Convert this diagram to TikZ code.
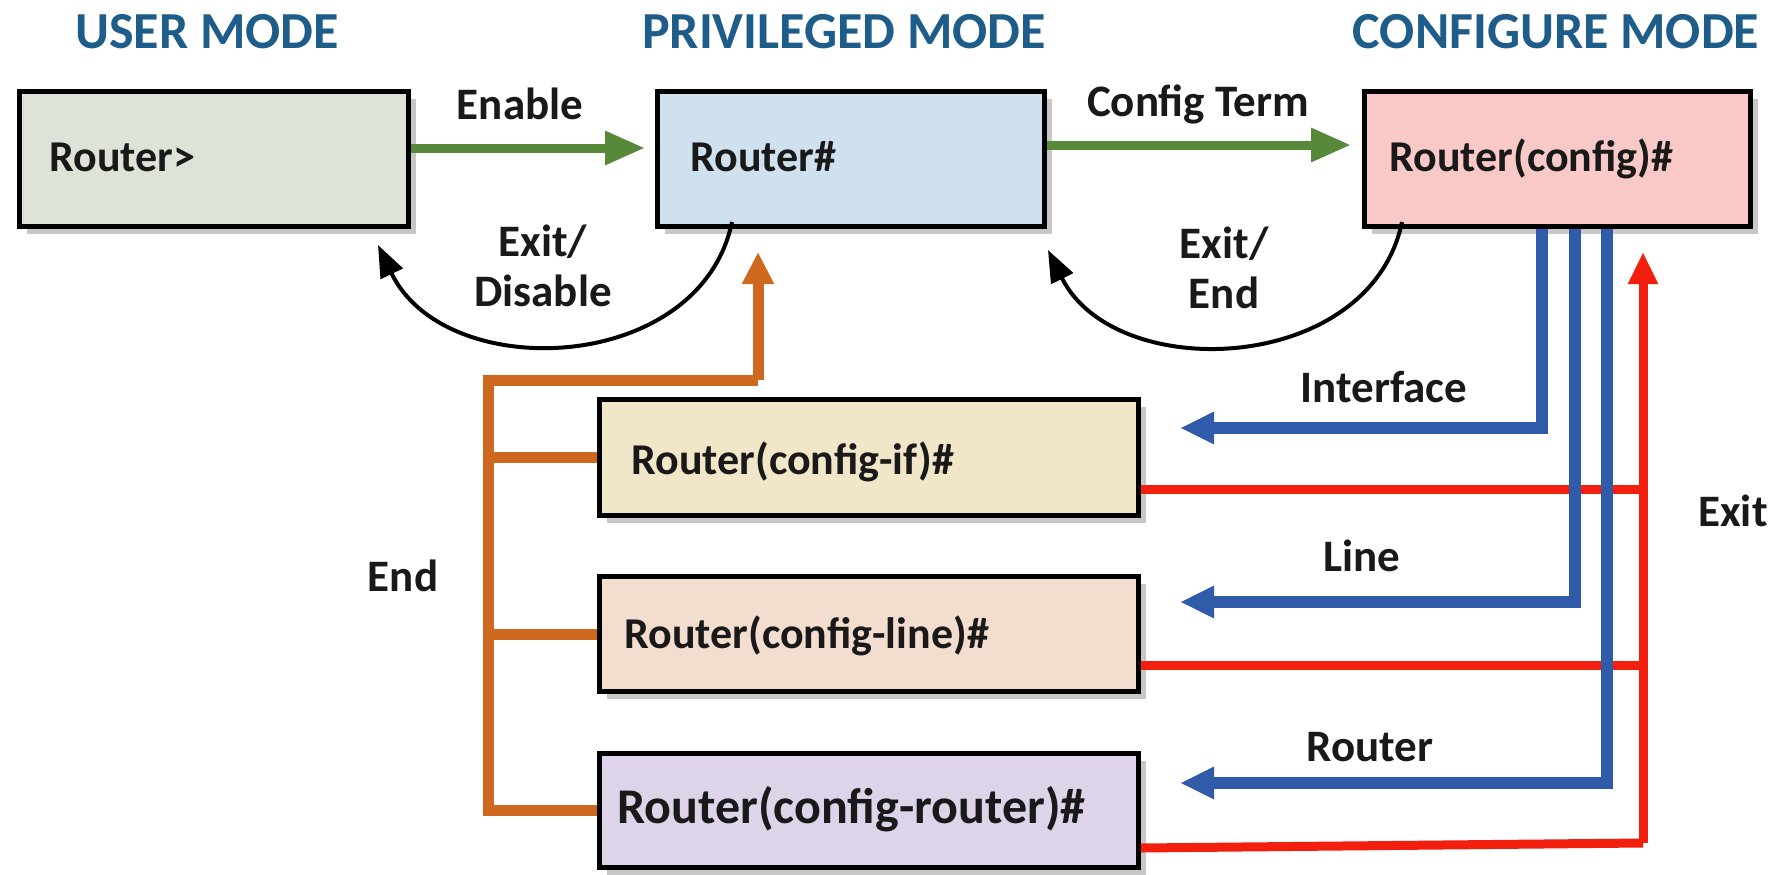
\documentclass[tikz,border=0pt]{standalone}
\usepackage{fontspec}
\setmainfont{Carlito}
\usetikzlibrary{arrows.meta,shadows,calc}
\definecolor{titleblue}{RGB}{30,92,138}
\definecolor{fuser}{RGB}{222,227,216}
\definecolor{fpriv}{RGB}{207,224,239}
\definecolor{fconf}{RGB}{249,201,199}
\definecolor{fif}{RGB}{242,230,200}
\definecolor{fline}{RGB}{242,221,206}
\definecolor{frouter}{RGB}{222,212,234}
\definecolor{cgreen}{RGB}{88,136,58}
\definecolor{corange}{RGB}{206,104,30}
\definecolor{cblue}{RGB}{47,91,168}
\definecolor{cred}{RGB}{242,30,14}
\begin{document}
\begin{tikzpicture}[x=1pt,y=-1pt,
  modebox/.style={draw=black,line width=5pt,minimum height=#1,anchor=north west,
    inner sep=0pt,drop shadow={shadow xshift=7pt,shadow yshift=-7pt,fill=black!40,opacity=0.55}},
  modebox/.default=135pt,
  boxtext/.style={font=\bfseries\fontsize{44}{52}\selectfont,text=black!90,anchor=west},
  title/.style={font=\bfseries\fontsize{52}{60}\selectfont,text=titleblue},
  lbl/.style={font=\bfseries\fontsize{45}{50}\selectfont,text=black!90,align=center},
  garrow/.style={draw=cgreen,line width=9pt,-{Triangle[length=40pt,width=32pt]}},
  karrow/.style={draw=black,line width=4pt,-{Triangle[length=32pt,width=24pt]}},
  oline/.style={draw=corange,line width=11pt},
  barrow/.style={draw=cblue,line width=12pt,line join=miter,-{Triangle[length=34pt,width=30pt]}},
  rline/.style={draw=cred,line width=9pt},
]
\useasboundingbox (0,0) rectangle (1780,875);
\fill[white] (0,0) rectangle (1780,875);

% titles
\node[title] (tuser) at (207,32) {USER MODE};
\node[title] (tpriv) at (844,32) {PRIVILEGED MODE};
\node[title] (tconf) at (1556,32) {CONFIGURE MODE};

% mode boxes
\node[modebox,fill=fuser,minimum width=389pt] (u) at (17,89) {};
\node[modebox,fill=fpriv,minimum width=387pt] (p) at (655,89) {};
\node[modebox,fill=fconf,minimum width=386pt] (c) at (1362,89) {};
\node[boxtext] (ut) at (46,157) {Router>};
\node[boxtext] (pt) at (687,157) {Router\#};
\node[boxtext] (ct) at (1386,159) {Router(config)\#};

% sub-mode boxes
\node[modebox=116pt,fill=fif,minimum width=539pt] (cif) at (597,397) {};
\node[modebox=115pt,fill=fline,minimum width=539pt] (cln) at (597,574) {};
\node[modebox=114pt,fill=frouter,minimum width=539pt] (crt) at (597,751) {};
\node[boxtext] (cift) at (628,462) {Router(config-if)\#};
\node[boxtext] (clnt) at (621,636) {Router(config-line)\#};
\node[boxtext,font=\bfseries\fontsize{50}{58}\selectfont] (crtt) at (614,809) {Router(config-router)\#};

% green arrows
\coordinate (g1e) at (645,148);
\coordinate (g2e) at (1351,145);
\draw[garrow] (u.east |- g1e) -- (g1e);
\draw[garrow] (p.east |- g2e) -- (g2e);
\node[lbl] (len) at (520,104) {Enable};
\node[lbl] (lct) at (1198,104) {Config Term};

% black return arcs
\coordinate (a1s) at (732,222);
\coordinate (a1e) at (378,245);
\coordinate (a2s) at (1402,222);
\coordinate (a2e) at (1048,250);
\draw[karrow] (a1s) .. controls (700,375) and (445,385) .. (a1e);
\draw[karrow] (a2s) .. controls (1370,375) and (1115,385) .. (a2e);
\node[lbl] (lexd) at (543,266) {Exit/\\Disable};
\node[lbl] (lexe) at (1224,268) {Exit/\\End};

% orange End lines
\coordinate (otop) at (488,380);
\coordinate (oend) at (758,252);
\draw[oline] (crt.west) -- (crt.west -| otop) -- (otop) -- (otop -| oend);
\draw[oline,-{Triangle[length=32pt,width=30pt]}] (otop -| oend) -- (oend);
\draw[oline] (cif.west) -- (cif.west -| otop);
\draw[oline] (cln.west) -- (cln.west -| otop);
\node[lbl] (lend) at (403,576) {End};

% red Exit lines
\coordinate (rx) at (1643,843);
\coordinate (rend) at (1643,252);
\draw[rline] ([yshift=29pt]cif.south east) -- ++(507,0);
\draw[rline] ([yshift=29pt]cln.south east) -- ++(507,0);
\draw[rline] ([yshift=22pt]crt.south east) -- (rx);
\draw[rline,-{Triangle[length=32pt,width=28pt]}] (rx) -- (rend);
\node[lbl] (lexit) at (1733,511) {Exit};

% blue lines
\coordinate (b1) at (1542,428);
\coordinate (b2) at (1575,602);
\coordinate (b3) at (1607,783);
\draw[barrow] (c.south -| b1) -- (b1) -- ([xshift=39pt]cif.east |- b1);
\draw[barrow] (c.south -| b2) -- (b2) -- ([xshift=39pt]cln.east |- b2);
\draw[barrow] (c.south -| b3) -- (b3) -- ([xshift=39pt]crt.east |- b3);
\node[lbl] (lif) at (1384,387) {Interface};
\node[lbl] (lln) at (1362,556) {Line};
\node[lbl] (lrt) at (1370,747) {Router};
\end{tikzpicture}
\end{document}
